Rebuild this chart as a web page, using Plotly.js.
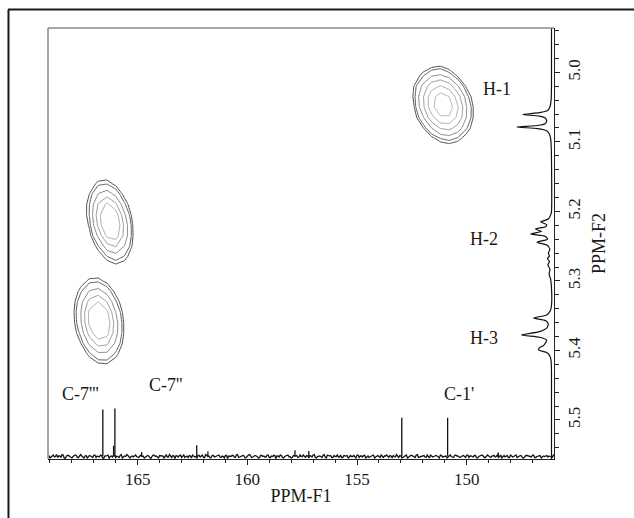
<!DOCTYPE html>
<html>
<head>
<meta charset="utf-8">
<script src="https://cdn.plot.ly/plotly-3.0.1.min.js"></script>
<style>
html,body{margin:0;padding:0;background:#fff;}
#chart{width:634px;height:518px;}
</style>
</head>
<body>
<div id="chart"></div>
<script>
// ================= DATA =================
// axis ticks
const f1TickVals = [165, 160, 155, 150];
const f2TickVals = [5.0, 5.1, 5.2, 5.3, 5.4, 5.5];

// cross peak H-1 / C-1'
const peak1X = [152.8, 152.4, 152.0, 151.6, 151.2, 150.8, 150.4, 150.0, 149.6, 149.2];
const peak1Y = [4.975, 4.99, 5.005, 5.02, 5.035, 5.05, 5.065, 5.08, 5.095, 5.11, 5.125];
const peak1Z = [
  [0.03,0.08,0.16,0.21,0.21,0.14,0.07,0.02,0.01,0.00],
  [0.08,0.25,0.52,0.76,0.90,0.57,0.29,0.10,0.03,0.00],
  [0.18,0.56,1.24,1.94,2.14,1.66,0.90,0.35,0.09,0.02],
  [0.27,1.02,2.19,3.66,4.31,3.56,2.07,0.85,0.25,0.05],
  [0.31,1.11,2.82,5.04,6.33,5.60,3.48,1.52,0.47,0.10],
  [0.25,0.98,2.66,5.08,6.82,6.45,4.27,2.00,0.65,0.15],
  [0.15,0.63,1.84,3.74,5.37,5.42,3.85,1.92,0.67,0.16],
  [0.07,0.30,0.93,2.02,3.10,3.34,2.53,1.35,0.51,0.13],
  [0.02,0.10,0.34,0.80,1.31,1.51,1.22,0.69,0.28,0.08],
  [0.00,0.03,0.09,0.23,0.40,0.50,0.43,0.26,0.11,0.03],
  [0.00,0.01,0.02,0.05,0.09,0.12,0.11,0.08,0.04,0.01]
];
const peak1Levels = [1.0, 1.3, 2.0, 3.0, 4.2, 5.6];

// cross peak H-2 / C-7''
const peak2X = [168.0, 167.6, 167.2, 166.8, 166.4, 166.0, 165.6, 165.2, 164.8];
const peak2Y = [5.13, 5.145, 5.16, 5.175, 5.19, 5.205, 5.22, 5.235, 5.25, 5.265, 5.28, 5.295];
const peak2Z = [
  [0.01,0.05,0.13,0.19,0.17,0.09,0.03,0.01,0.00],
  [0.02,0.11,0.32,0.52,0.52,0.30,0.11,0.02,0.00],
  [0.04,0.21,0.63,1.15,1.25,0.81,0.32,0.07,0.01],
  [0.05,0.30,1.01,2.03,2.43,1.74,0.74,0.18,0.03],
  [0.06,0.35,1.30,2.87,3.78,2.98,1.40,0.39,0.07],
  [0.05,0.33,1.33,3.25,4.72,4.10,2.12,0.65,0.12],
  [0.03,0.25,1.10,2.97,4.74,4.52,2.58,0.89,0.18],
  [0.02,0.16,0.79,2.16,3.81,4.01,2.52,0.95,0.21],
  [0.01,0.07,0.39,1.27,2.46,2.86,1.98,0.82,0.20],
  [0.00,0.03,0.16,0.60,1.27,1.63,1.24,0.57,0.15],
  [0.00,0.01,0.05,0.23,0.53,0.75,0.63,0.32,0.09],
  [0.00,0.00,0.02,0.07,0.18,0.27,0.25,0.14,0.05]
];
const peak2Levels = [1.0, 1.3, 2.0, 2.8, 3.6];

// cross peak H-3 / C-7'''
const peak3X = [168.4, 168.0, 167.6, 167.2, 166.8, 166.4, 166.0, 165.6, 165.2, 164.8];
const peak3Y = [5.27, 5.285, 5.30, 5.315, 5.33, 5.345, 5.36, 5.375, 5.39, 5.405, 5.42, 5.435];
const peak3Z = [
  [0.02,0.06,0.13,0.19,0.18,0.11,0.04,0.01,0.00,0.00],
  [0.04,0.14,0.33,0.51,0.51,0.33,0.14,0.04,0.01,0.00],
  [0.07,0.28,0.70,1.13,1.19,0.82,0.37,0.11,0.02,0.00],
  [0.11,0.46,1.21,2.06,2.30,1.67,0.79,0.24,0.05,0.01],
  [0.15,0.62,1.71,3.08,3.62,2.77,1.38,0.45,0.09,0.01],
  [0.15,0.68,1.98,3.77,4.68,3.77,1.98,0.68,0.15,0.02],
  [0.13,0.61,1.89,3.80,4.97,4.23,2.35,0.85,0.20,0.03],
  [0.09,0.45,1.48,3.15,4.34,3.90,2.28,0.87,0.22,0.04],
  [0.05,0.28,0.96,2.14,3.11,2.95,1.82,0.73,0.19,0.03],
  [0.02,0.14,0.50,1.18,1.82,1.82,1.18,0.50,0.14,0.02],
  [0.01,0.06,0.22,0.55,0.89,0.94,0.64,0.29,0.08,0.02],
  [0.00,0.02,0.08,0.21,0.35,0.39,0.29,0.13,0.04,0.01]
];
const peak3Levels = [1.0, 1.3, 2.0, 2.8, 3.6];

// 1D 1H projection (F2) : ppm and relative intensity
const protonPpm = [4.936, 5.020, 5.040, 5.050, 5.055, 5.058, 5.0607, 5.063, 5.066, 5.070, 5.074, 5.0765, 5.0787, 5.081, 5.084, 5.089, 5.096, 5.110, 5.200,
  5.205, 5.211, 5.2153, 5.219, 5.222, 5.2253, 5.229, 5.2325, 5.236, 5.240, 5.2445, 5.249, 5.255, 5.260, 5.264, 5.268, 5.272, 5.277, 5.283, 5.290, 5.298, 5.310,
  5.335, 5.343, 5.349, 5.3533, 5.357, 5.362, 5.368, 5.373, 5.3778, 5.381, 5.385, 5.389, 5.393, 5.396, 5.3994, 5.403, 5.408, 5.415, 5.430, 5.556];
const protonInt = [0, 0, 0.01, 0.04, 0.10, 0.30, 0.72, 0.30, 0.15, 0.12, 0.16, 0.35, 0.87, 0.35, 0.12, 0.05, 0.02, 0.005, 0,
  0.02, 0.08, 0.27, 0.12, 0.15, 0.40, 0.25, 0.52, 0.15, 0.10, 0.36, 0.10, 0.04, 0.08, 0.05, 0.10, 0.05, 0.09, 0.04, 0.06, 0.02, 0,
  0, 0.03, 0.12, 0.45, 0.15, 0.08, 0.12, 0.30, 0.75, 0.30, 0.12, 0.15, 0.20, 0.30, 0.32, 0.12, 0.04, 0.01, 0, 0];

// 1D 13C projection (F1): resolved lines
const carbonPeakPpm = [166.59, 166.04, 166.10, 164.82, 162.31, 161.80, 157.83, 157.20, 152.96, 150.87, 148.56];
const carbonPeakInt = [0.96, 0.98, 0.22, 0.09, 0.23, 0.10, 0.13, 0.11, 0.79, 0.79, 0.08];
// baseline noise of the 13C trace (units of 0.01); two interleaved sample sets, 0.1 ppm apart each
const carbonNoiseStart = 169.05;
const carbonNoiseStep = -0.1;
const carbonNoiseUnit = 0.01;
const carbonNoiseA = [
  2,-1,3,0,-2,1,4,-3,1,2,-1,0,3,-2,2,1,-3,2,0,1,-2,
  3,1,-1,2,-4,1,3,0,-1,2,1,-2,4,-1,0,2,-3,1,2,0,-2,
  3,1,-1,2,-2,0,3,1,-3,2,1,0,-1,4,-2,1,2,-1,3,0,-2,
  1,2,-3,1,0,2,-1,3,-2,1,1,-2,2,0,3,-1,1,-3,2,1,0,
  2,-2,4,-1,0,1,-2,3,1,-1,2,0,-3,2,1,-1,3,-2,0,2,1,
  -1,2,-3,1,3,0,-2,1,2,-1,0,3,-2,1,2,-1,4,-3,1,0,2,
  -1,3,1,-2,2,0,-1,3,-2,1,2,-1,0,2,-3,3,1,-1,2,0,-2,
  1,3,-1,2,-2,0,1,3,-2,1,2,-1,0,2,-3,1,3,-1,2,0,-2,
  4,-1,1,2,-2,0,3,-1,2,1,-3,2,0,1,-1,3,-2,2,1,-1,0,
  2,-2,3,1,-1,2,-3,0,2,1,-2,3,-1,1,2,0,-2,3,1,-1,2,
  -2,1,0,3,-1,2,-3,1,2,0,-1,3,-2,1,2,-1,0,2,1,-2,3
];
const carbonNoiseB = [
  -3,2,-1,4,1,-2,3,-4,2,0,-3,1,2,-2,4,-1,1,-3,2,-1,3,
  -2,0,3,-3,1,2,-4,1,3,-2,0,2,-3,1,4,-2,0,-1,3,-2,1,
  0,-3,2,1,-4,3,0,-2,2,1,-3,3,-1,0,2,-4,1,2,-2,3,0,
  -2,1,3,-1,-3,2,1,-2,4,0,-3,2,-1,1,3,-2,0,2,-4,1,2,
  -1,3,-2,0,2,-3,1,4,-2,0,1,-3,2,0,-1,3,-2,1,2,-4,1,
  3,-2,0,2,-1,-3,2,1,-2,3,0,-1,2,-3,1,3,-2,0,1,-2,4,
  -3,1,2,-2,0,3,-1,-2,2,1,-3,2,0,-1,3,-2,1,2,-3,1,0,
  2,-3,1,0,3,-2,1,-1,2,-3,0,4,-2,1,-1,2,-3,1,2,-1,3,
  -2,0,2,-1,3,-3,1,0,2,-2,3,-1,1,-3,2,0,-2,3,1,-2,1,
  0,3,-2,1,-1,2,-3,1,3,-2,0,1,-2,2,-1,3,0,-3,2,1,-2,
  3,-1,2,-2,0,1,-3,2,1,-1,3,-2,0,2,-3,1,2,-1,0,-2,1
];

// text labels
const labelText = ["H-1", "H-2", "H-3", "C-7'''", "C-7''", "C-1'"];
const labelF1 = [148.62, 149.21, 149.21, 167.59, 163.69, 150.37];
const labelF2 = [5.0244, 5.240, 5.3825, 5.4623, 5.449, 5.463];

// ================= STYLE =================
const levelColors = ['#4a4a4a', '#5c5c5c', '#858585', '#999999', '#ababab', '#b4b4b4'];
const serif = 'Liberation Serif, Times New Roman, serif';

// ================= TRACES =================
const traces = [];
function addContours(xs, ys, zs, levels) {
  levels.forEach((lv, i) => {
    traces.push({
      type: 'contour', x: xs, y: ys, z: zs,
      autocontour: false,
      contours: {start: lv, end: lv, size: 1, coloring: 'none', showlabels: false},
      line: {color: levelColors[i], width: 1, smoothing: 0},
      showscale: false, hoverinfo: 'skip', xaxis: 'x', yaxis: 'y'
    });
  });
}
addContours(peak1X, peak1Y, peak1Z, peak1Levels);
addContours(peak2X, peak2Y, peak2Z, peak2Levels);
addContours(peak3X, peak3Y, peak3Z, peak3Levels);

// 1H projection along right side
traces.push({
  type: 'scatter', mode: 'lines', x: protonInt, y: protonPpm,
  xaxis: 'x2', yaxis: 'y',
  line: {color: '#111', width: 1.2, shape: 'spline', smoothing: 0.6},
  hoverinfo: 'skip'
});

// 13C noise baseline (interleave the two sample sets)
const noiseX = [], noiseY = [];
carbonNoiseA.forEach((v, i) => {
  noiseX.push(carbonNoiseStart + i * carbonNoiseStep);
  noiseY.push(v * carbonNoiseUnit);
  if (i < carbonNoiseB.length) {
    noiseX.push(carbonNoiseStart + (i + 0.5) * carbonNoiseStep);
    noiseY.push(carbonNoiseB[i] * carbonNoiseUnit);
  }
});
traces.push({
  type: 'scatter', mode: 'lines', x: noiseX, y: noiseY,
  xaxis: 'x', yaxis: 'y2',
  line: {color: '#111', width: 1.3},
  hoverinfo: 'skip'
});
// 13C lines as sticks
const stickX = [], stickY = [];
carbonPeakPpm.forEach((p, i) => { stickX.push(p, p, null); stickY.push(0, carbonPeakInt[i], null); });
traces.push({
  type: 'scatter', mode: 'lines', x: stickX, y: stickY,
  xaxis: 'x', yaxis: 'y2', connectgaps: false,
  line: {color: '#111', width: 1.3},
  hoverinfo: 'skip'
});

// ================= LAYOUT =================
const layout = {
  width: 634, height: 518,
  margin: {l: 48, r: 80, t: 28, b: 59, pad: 0},
  paper_bgcolor: '#ffffff', plot_bgcolor: '#ffffff',
  showlegend: false,
  font: {family: serif, size: 17, color: '#1a1a1a'},
  xaxis: {
    range: [169.09, 146.02],
    tickmode: 'array', tickvals: f1TickVals,
    ticks: 'outside', ticklen: 5, tickwidth: 1, tickcolor: '#222',
    minor: {tickmode: 'linear', tick0: 150, dtick: 1, ticks: 'outside', ticklen: 3, tickwidth: 1, tickcolor: '#222', showgrid: false},
    showline: true, linecolor: '#222', linewidth: 1,
    showgrid: false, zeroline: false,
    tickfont: {family: serif, size: 17, color: '#1a1a1a'},
    title: {text: 'PPM-F1', font: {family: serif, size: 18, color: '#1a1a1a'}, standoff: 0}
  },
  yaxis: {
    side: 'right',
    range: [5.5561, 4.9363],
    tickmode: 'array', tickvals: f2TickVals, ticktext: f2TickVals.map(v => v.toFixed(1)),
    tickangle: -90,
    ticks: 'outside', ticklen: 5, tickwidth: 1, tickcolor: '#222',
    minor: {tickmode: 'linear', tick0: 5.0, dtick: 0.02, ticks: 'outside', ticklen: 4, tickwidth: 1, tickcolor: '#222', showgrid: false},
    showline: true, linecolor: '#222', linewidth: 1,
    showgrid: false, zeroline: false,
    tickfont: {family: serif, size: 17, color: '#1a1a1a'},
    title: {text: 'PPM-F2', font: {family: serif, size: 18, color: '#1a1a1a'}, standoff: 8}
  },
  xaxis2: {overlaying: 'x', range: [12.5875, -0.0625], visible: false, showgrid: false, zeroline: false},
  yaxis2: {overlaying: 'y', range: [-0.051, 8.745], visible: false, showgrid: false, zeroline: false},
  shapes: [
    // plot frame top / left (grey)
    {type: 'line', xref: 'paper', yref: 'paper', x0: 0, x1: 1, y0: 1, y1: 1, line: {color: '#8a8a8a', width: 1.5}},
    {type: 'line', xref: 'paper', yref: 'paper', x0: 0, x1: 0, y0: 0, y1: 1, line: {color: '#8a8a8a', width: 1.5}},
    // outer figure border top / left
    {type: 'line', xref: 'paper', yref: 'paper', x0: -0.079, x1: 1.16, y0: 1.0429, y1: 1.0429, line: {color: '#1a1a1a', width: 2}},
    {type: 'line', xref: 'paper', yref: 'paper', x0: -0.0781, x1: -0.0781, y0: 1.0429, y1: -0.14, line: {color: '#1a1a1a', width: 2}}
  ],
  annotations: labelText.map((t, i) => ({
    text: t, x: labelF1[i], y: labelF2[i], xref: 'x', yref: 'y',
    showarrow: false, xanchor: 'center', yanchor: 'middle',
    font: {family: serif, size: 18, color: '#1a1a1a'}
  }))
};

Plotly.newPlot('chart', traces, layout, {displayModeBar: false, staticPlot: true});
</script>
</body>
</html>
